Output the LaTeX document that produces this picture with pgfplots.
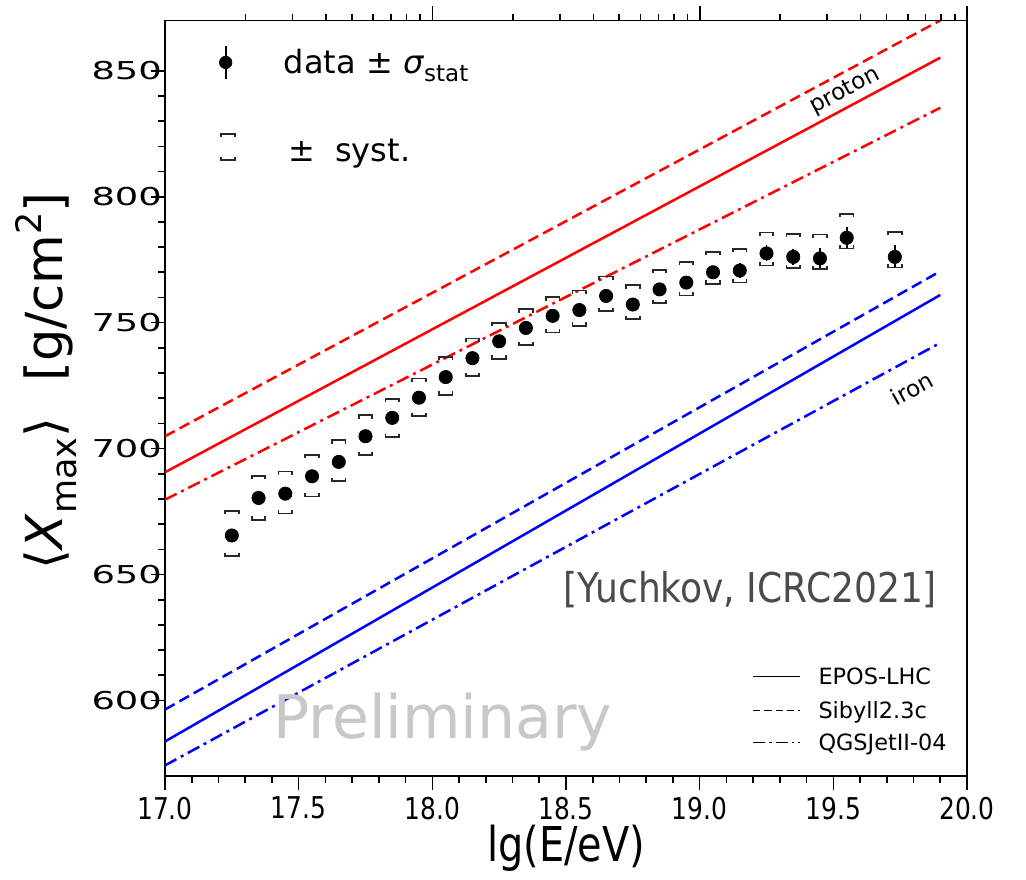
\documentclass[border=0pt]{standalone}
\usepackage{fontspec}
\setmainfont{DejaVu Sans}
\usepackage{pgfplots}
\usepackage{pgfplotstable}
\pgfplotsset{compat=1.18}

\newfontfamily\ytickfont[FakeStretch=1.5]{DejaVu Sans}
\newfontfamily\condfont[FakeStretch=0.83]{DejaVu Sans}
\newfontfamily\notefont[FakeStretch=0.88]{DejaVu Sans}

\definecolor{sysgray}{RGB}{40,40,40}
\definecolor{notegray}{RGB}{75,75,75}
\definecolor{prelimgray}{RGB}{200,200,200}

% bracket marks for the systematic band (upper / lower edge)
\pgfdeclareplotmark{sysup}{%
  \pgfpathmoveto{\pgfqpoint{-3.4pt}{-1.7pt}}%
  \pgfpathlineto{\pgfqpoint{-3.4pt}{0pt}}%
  \pgfpathlineto{\pgfqpoint{3.4pt}{0pt}}%
  \pgfpathlineto{\pgfqpoint{3.4pt}{-1.7pt}}%
  \pgfusepathqstroke}
\pgfdeclareplotmark{syslo}{%
  \pgfpathmoveto{\pgfqpoint{-3.4pt}{1.7pt}}%
  \pgfpathlineto{\pgfqpoint{-3.4pt}{0pt}}%
  \pgfpathlineto{\pgfqpoint{3.4pt}{0pt}}%
  \pgfpathlineto{\pgfqpoint{3.4pt}{1.7pt}}%
  \pgfusepathqstroke}

% <Xmax> per energy bin: mean, stat. error, upper and lower syst. edge
\pgfplotstableread{
lgE   Xmax   stat  sysup  syslo
17.25 665.5  1.0   675.2  657.2
17.35 680.4  1.0   689.2  671.8
17.45 682.1  1.0   690.9  674.2
17.55 689.0  1.0   697.6  681.0
17.65 694.7  1.0   703.3  687.0
17.75 704.9  1.0   713.2  697.3
17.85 712.2  1.0   719.8  704.6
17.95 720.2  1.0   727.8  712.8
18.05 728.4  1.0   736.4  721.4
18.15 735.9  1.0   743.7  728.8
18.25 742.6  1.0   750.0  735.7
18.35 747.9  1.2   755.3  741.0
18.45 752.7  1.3   760.1  746.1
18.55 755.0  1.4   762.8  748.8
18.65 760.6  1.6   768.3  754.5
18.75 757.2  1.8   764.9  751.3
18.85 763.2  2.0   770.9  757.7
18.95 765.9  2.2   774.1  760.8
19.05 770.0  2.5   778.1  765.4
19.15 770.7  2.8   779.2  765.9
19.25 777.5  3.2   785.8  772.7
19.35 776.1  3.3   785.2  771.7
19.45 775.5  4.0   785.0  771.2
19.55 783.7  4.2   793.1  779.4
19.73 776.1  4.6   786.0  771.9
}\xmaxdata

\begin{document}
\begin{tikzpicture}
\useasboundingbox (0,0) rectangle (513pt,439.5pt);

\begin{axis}[
  at={(82.5pt,51.5pt)}, anchor=south west,
  scale only axis, width=401pt, height=377.8pt,
  xmin=17, xmax=20, ymin=570, ymax=870,
  xtick={17,17.5,...,20}, minor x tick num=4,
  ytick={600,650,...,850}, minor y tick num=4,
  xtick pos=left, ytick pos=left,
  tick align=outside,
  major tick length=7pt, minor tick length=3.35pt,
  every tick/.style={black, line width=0.8pt},
  axis line style={line width=0.8pt},
  /pgf/number format/assume math mode=true,
  xticklabel style={font=\condfont\fontsize{15}{15}\selectfont,
    /pgf/number format/fixed, /pgf/number format/fixed zerofill,
    /pgf/number format/precision=1},
  yticklabel style={font=\ytickfont\fontsize{12.3}{12.5}\selectfont, xshift=9pt},
  xlabel={\condfont\fontsize{24}{24}\selectfont lg(E/eV)},
  xlabel style={at={(axis description cs:0.5,-0.0953)}, anchor=center},
  ylabel={\fontsize{25.5}{25.5}\selectfont ⟨\textit{X}\raisebox{-0.28em}{\fontsize{17.5}{17.5}\selectfont max}⟩\hspace{0.7em}[g/cm\raisebox{0.42em}{\fontsize{17.5}{17.5}\selectfont 2}]},
  ylabel style={at={(axis description cs:-0.148,0.523)}, anchor=center, rotate=0},
]

% proton (red) and iron (blue) predictions
\addplot[red, line width=1.25pt] coordinates {(17,690.6) (19.9,855.2)};
\addplot[red, line width=1.25pt, dash pattern=on 5.5pt off 2.75pt] coordinates {(17,704.9) (19.9,870.0)};
\addplot[red, line width=1.25pt, dash pattern=on 6.5pt off 2.5pt on 1.5pt off 2.5pt] coordinates {(17,679.7) (19.9,835.3)};
\addplot[blue, line width=1.25pt] coordinates {(17,583.7) (19.9,761.0)};
\addplot[blue, line width=1.25pt, dash pattern=on 5.5pt off 2.75pt] coordinates {(17,596.4) (19.9,770.4)};
\addplot[blue, line width=1.25pt, dash pattern=on 6.5pt off 2.5pt on 1.5pt off 2.5pt] coordinates {(17,574.2) (19.9,742.0)};

% systematic brackets
\addplot[only marks, mark=sysup, mark options={draw=sysgray, line width=0.9pt}] table[x=lgE, y=sysup] {\xmaxdata};
\addplot[only marks, mark=syslo, mark options={draw=sysgray, line width=0.9pt}] table[x=lgE, y=syslo] {\xmaxdata};

% data with statistical errors
\addplot[only marks, mark=*, mark size=3.3pt, black,
  error bars/.cd, y dir=both, y explicit, error mark=none,
  error bar style={line width=0.85pt, black}]
  table[x=lgE, y=Xmax, y error=stat] {\xmaxdata};

% key, upper left
\addplot[only marks, mark=*, mark size=3.1pt, black,
  error bars/.cd, y dir=both, y explicit, error mark=none,
  error bar style={line width=0.85pt, black}]
  coordinates {(17.227,853.3) +- (0,6.6)};
\addplot[only marks, mark=sysup, mark options={draw=sysgray, line width=0.9pt}] coordinates {(17.236,824.9)};
\addplot[only marks, mark=syslo, mark options={draw=sysgray, line width=0.9pt}] coordinates {(17.236,814.5)};
\node[anchor=base west, inner sep=0pt, font=\fontsize{16}{16}\selectfont] at (axis cs:17.443,849.0)
  {data ± \textit{σ}\raisebox{-0.25em}{\fontsize{11.5}{11.5}\selectfont stat}};
\node[anchor=base west, inner sep=0pt, font=\fontsize{16}{16}\selectfont] at (axis cs:17.461,813.8)
  {±\hspace{0.3em} syst.};

% key for the hadronic models, lower right
\addplot[black, line width=0.7pt] coordinates {(19.2,609.6) (19.376,609.6)};
\addplot[black, line width=0.7pt, dash pattern=on 3.6pt off 2pt] coordinates {(19.2,596.0) (19.376,596.0)};
\addplot[black, line width=0.7pt, dash pattern=on 6pt off 2pt on 1.2pt off 2pt] coordinates {(19.2,583.4) (19.376,583.4)};
\node[anchor=base west, inner sep=0pt, yshift=-4pt, font=\fontsize{11.2}{11.2}\selectfont] at (axis cs:19.443,609.6) {EPOS-LHC};
\node[anchor=base west, inner sep=0pt, yshift=-4pt, font=\fontsize{11.2}{11.2}\selectfont] at (axis cs:19.443,596.0) {Sibyll2.3c};
\node[anchor=base west, inner sep=0pt, yshift=-4pt, font=\fontsize{11.2}{11.2}\selectfont] at (axis cs:19.443,583.4) {QGSJetII-04};

% line annotations
\node[rotate=28, inner sep=0pt, font=\fontsize{11.5}{11.5}\selectfont] at (axis cs:19.544,841.9) {proton};
\node[rotate=28.5, inner sep=0pt, font=\fontsize{11.5}{11.5}\selectfont] at (axis cs:19.795,723.9) {iron};

\node[anchor=base, inner sep=0pt, text=notegray, font=\notefont\fontsize{20.5}{20.5}\selectfont] at (axis cs:19.189,638.9) {[Yuchkov, ICRC2021]};
\node[anchor=base, inner sep=0pt, text=prelimgray, font=\fontsize{30}{30}\selectfont] at (axis cs:18.04,584.9) {Preliminary};
\end{axis}

% energy axis on top (log scale, ticks only)
\begin{axis}[
  at={(82.5pt,51.5pt)}, anchor=south west,
  scale only axis, width=401pt, height=377.8pt,
  xmode=log, xmin=1e17, xmax=1e20, ymin=0, ymax=1,
  axis x line*=top, axis y line=none,
  xtick={1e18,1e19,1e20},
  minor xtick={2e17,3e17,4e17,5e17,6e17,7e17,8e17,9e17,
               2e18,3e18,4e18,5e18,6e18,7e18,8e18,9e18,
               2e19,3e19,4e19,5e19,6e19,7e19,8e19,9e19},
  xticklabels={{},{},{}},
  tick align=outside,
  major tick length=7pt, minor tick length=3.35pt,
  every tick/.style={black, line width=0.8pt},
  axis line style={line width=0.8pt},
]
\addplot[draw=none] coordinates {(1e18,0.5)};
\end{axis}
\end{tikzpicture}
\end{document}
